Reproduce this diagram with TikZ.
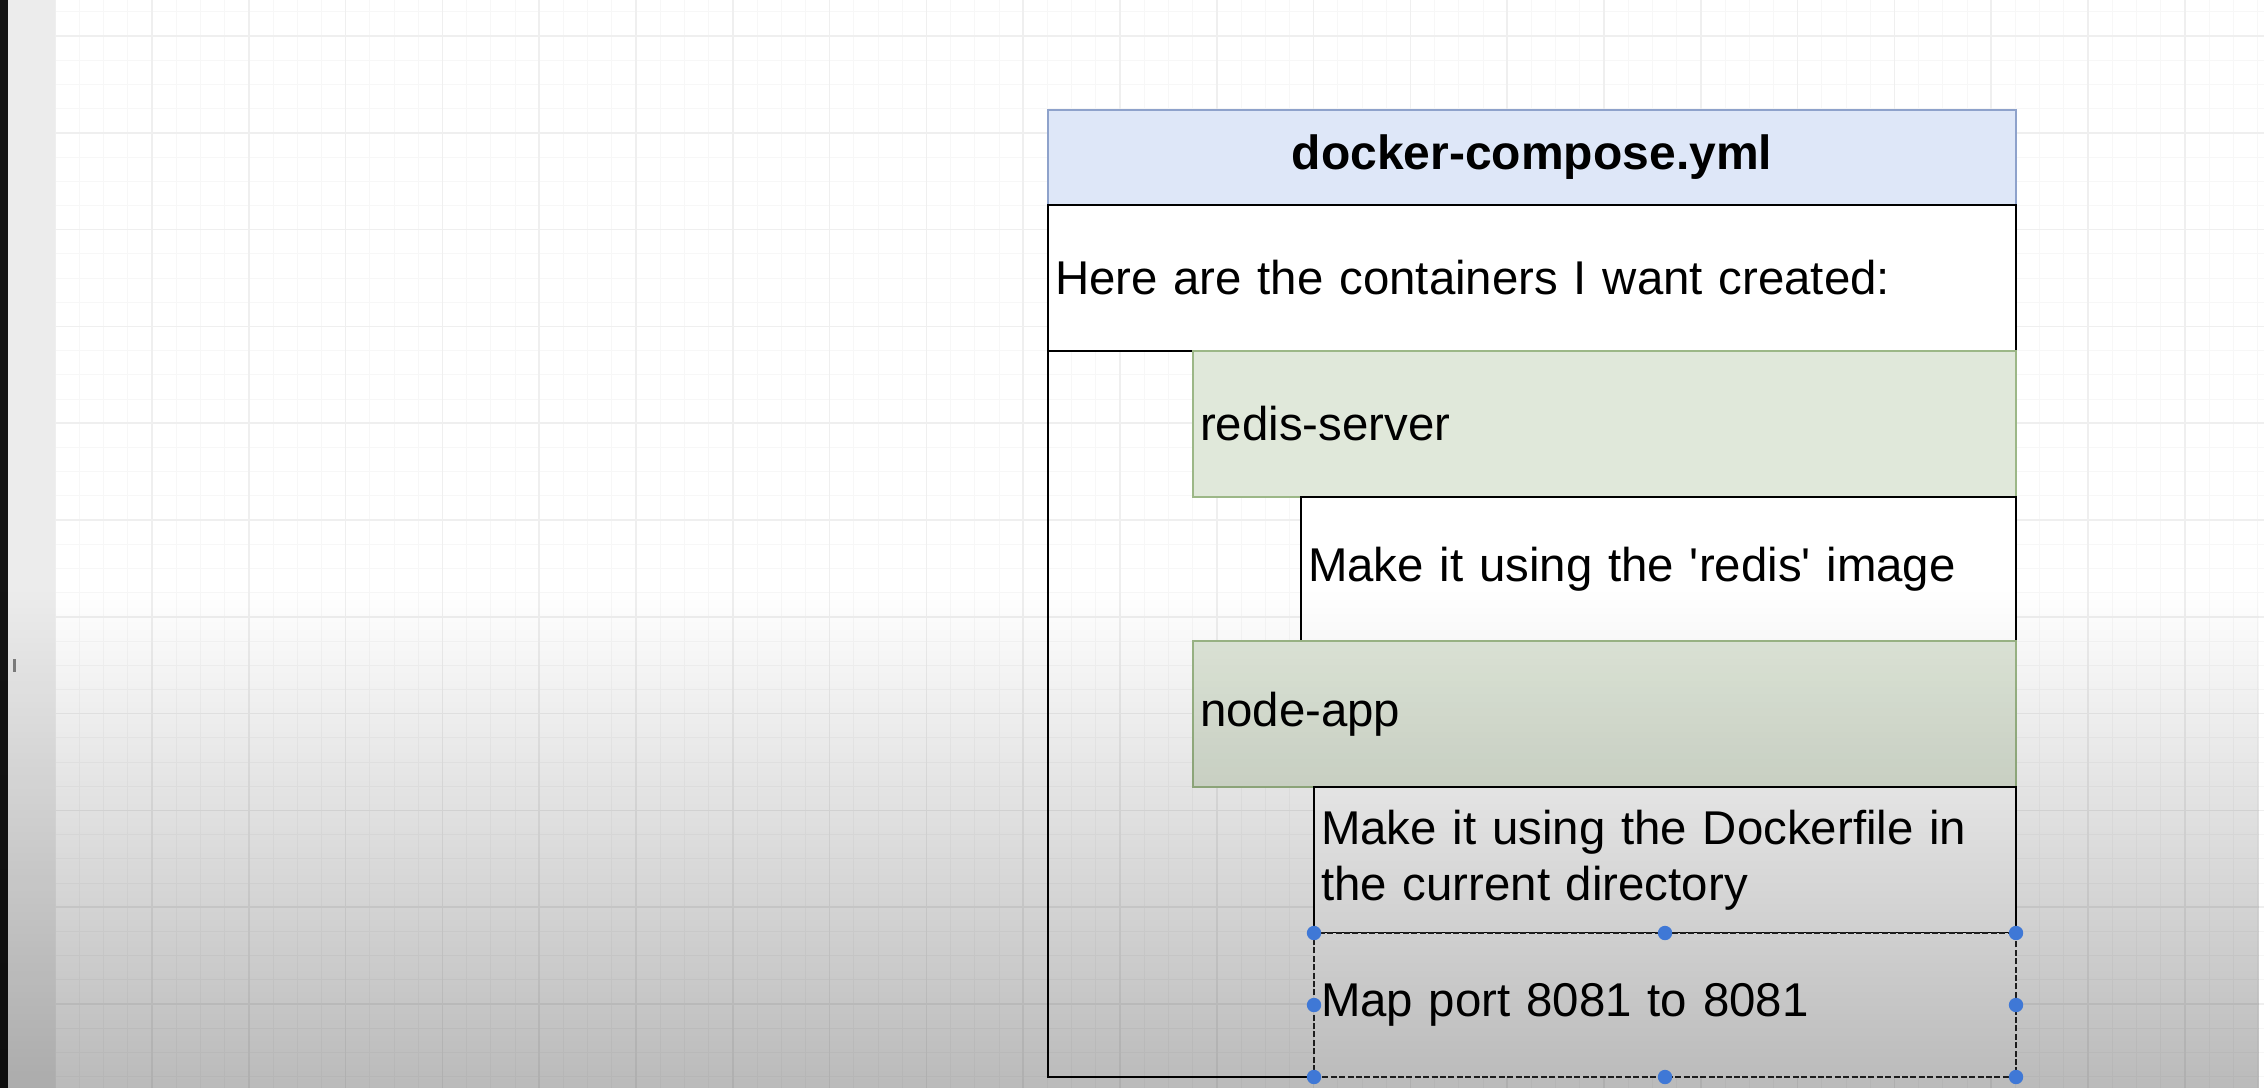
\documentclass[tikz,border=0pt]{standalone}
\usepackage{fontspec}
\setmainfont{Liberation Sans}
\usetikzlibrary{fadings}
\tikzfading[name=fadedown, top color=transparent!100, bottom color=transparent!0]
\definecolor{hdrfill}{HTML}{DEE7F8}
\definecolor{hdrline}{HTML}{8EA2CB}
\definecolor{grnfill}{HTML}{E0E8DA}
\definecolor{grnline}{HTML}{9CB787}
\definecolor{gridminor}{HTML}{F7F7F7}
\definecolor{gridmajor}{HTML}{EFEFEF}
\definecolor{handle}{HTML}{3F78D6}
\definecolor{stripdark}{HTML}{141414}
\definecolor{striplight}{HTML}{ECECEC}
\tikzset{
  base/.style={draw, line width=1.3pt, anchor=north west, inner sep=0pt, inner xsep=3.5pt, outer sep=0pt,
    font=\fontsize{23.7}{28}\selectfont},
  lbox/.style={base, align=left, text width=#1},
  greenbox/.style={fill=grnfill, draw=grnline, line width=1pt},
  whitebox/.style={fill=white, draw=black},
  minorline/.style={draw=gridminor, line width=0.5pt},
  majorline/.style={draw=gridmajor, line width=0.8pt},
  handledot/.style={fill=handle}
}
\begin{document}
\begin{tikzpicture}[x=0.5pt,y=-0.5pt]
\useasboundingbox (0,0) rectangle (2264,1088);
\fill[white] (0,0) rectangle (2264,1088);
% grid
\foreach \i in {0,...,91} \draw[minorline] ({55.2+\i*24.2},0) -- ({55.2+\i*24.2},1088);
\foreach \j in {0,...,45} \draw[minorline] (55,{11.8+\j*24.2}) -- (2264,{11.8+\j*24.2});
\foreach \i in {0,...,23} \draw[majorline] ({55.2+\i*96.8},0) -- ({55.2+\i*96.8},1088);
\foreach \j in {0,...,11} \draw[majorline] (55,{36+\j*96.8}) -- (2264,{36+\j*96.8});
% left strips
\fill[stripdark] (0,0) rectangle (8,1088);
\fill[striplight] (8,0) rectangle (55,1088);
\fill[gray] (13,659) rectangle (16,672);
% boxes
\node[base, fill=hdrfill, draw=hdrline, line width=1pt, minimum width=484pt, minimum height=47.5pt,
  font=\fontsize{24}{28}\selectfont\bfseries] (hdr) at (1048,110) {docker-compose.yml};
\node[lbox=477pt, whitebox, minimum height=73pt] (here) at (1048,205) {Here are the containers I want created:};
\node[lbox=404.5pt, greenbox, minimum height=73pt] (redis) at (1193,351) {redis-server};
\node[lbox=350.5pt, whitebox, minimum height=72pt] (redisimg) at (1301,497) {Make it using the \textquotesingle redis\textquotesingle\ image};
\node[lbox=404.5pt, greenbox, minimum height=73pt] (nodeapp) at (1193,641) {node-app};
\node[lbox=344pt, whitebox, minimum height=73pt] (dockerfile) at (1314,787) {Make it using the Dockerfile in\\the current directory};
\node[lbox=344pt, fill=white, draw=black!85, dash pattern=on 3pt off 1.2pt, minimum height=72pt] (mapport) at (1314,933) {Map port 8081 to 8081};
\coordinate (ocorner) at (1048,1077);
\draw[line width=1.3pt] (here.south west) -- (ocorner) -- (mapport.south west);
% video shading
\fill[black, opacity=0.27, path fading=fadedown] (0,590) rectangle (2264,1088);
% selection handles
\foreach \a in {north west, north, north east, west, east, south west, south, south east}
  \fill[handledot] (mapport.\a) circle (3.6pt);
\end{tikzpicture}
\end{document}
